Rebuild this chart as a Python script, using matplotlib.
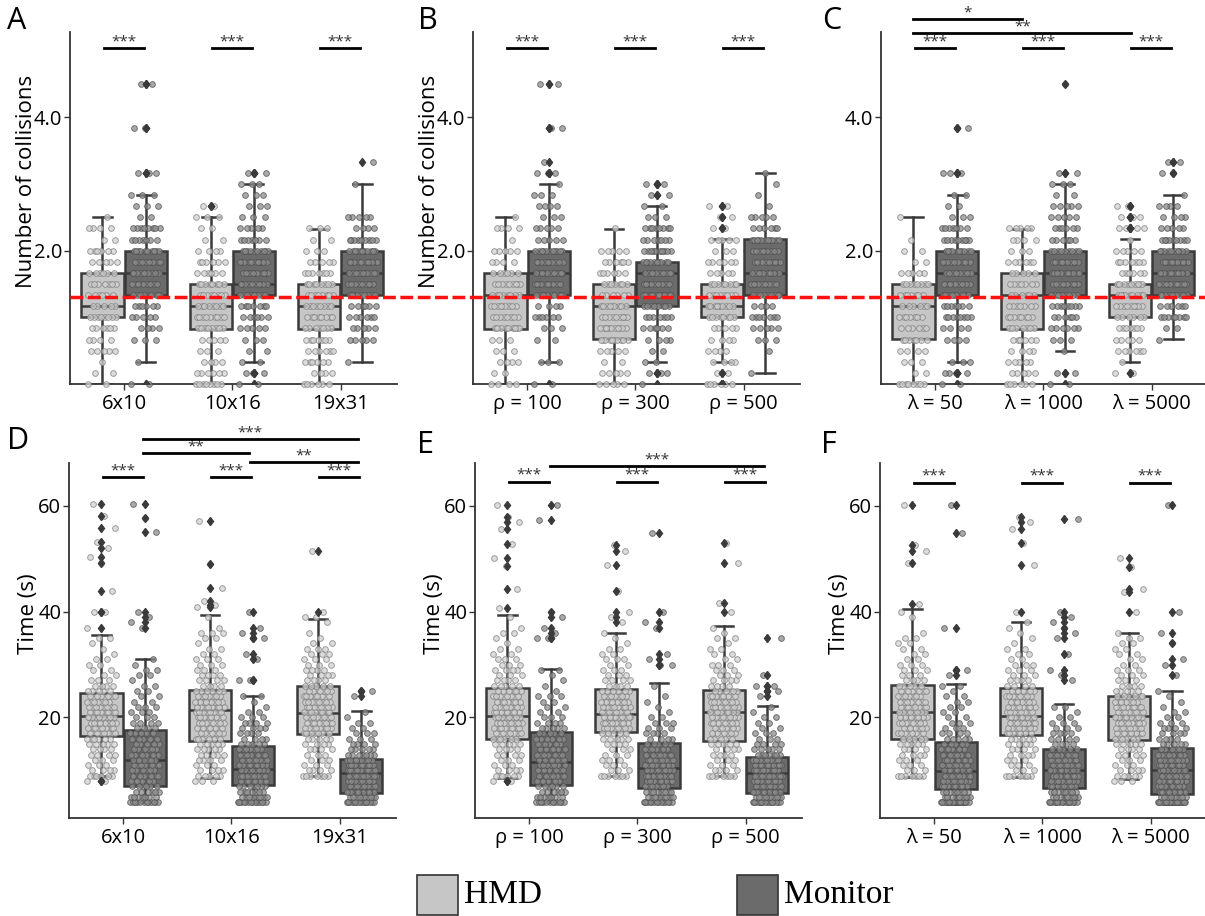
import numpy as np
import matplotlib
matplotlib.use("Agg")
import matplotlib.pyplot as plt
from matplotlib.lines import Line2D
from matplotlib.patches import Rectangle

plt.rcParams['font.family'] = ['Open Sans', 'DejaVu Sans']

# ---------------- data ----------------
# collisions: counts per level, level k = k/6 collisions (k = 0, 1, 2, ...)
a_labels = ['6x10', '10x16', '19x31']
b_labels = ['ρ = 100', 'ρ = 300', 'ρ = 500']
c_labels = ['λ = 50', 'λ = 1000', 'λ = 5000']

a_hmd_counts = [[2, 2, 1, 5, 4, 6, 8, 5, 6, 7, 6, 5, 6, 2, 4, 1],
                [8, 6, 4, 3, 5, 8, 9, 8, 8, 8, 6, 6, 4, 2, 2, 3, 2],
                [6, 4, 6, 6, 7, 7, 8, 8, 8, 8, 7, 5, 3, 2, 3]]
a_mon_counts = [[2, 0, 1, 0, 3, 4, 5, 6, 9, 8, 10, 9, 10, 7, 8, 2, 3, 3, 0, 3, 0, 0, 0, 2, 0, 0, 0, 2],
                [2, 3, 2, 2, 3, 5, 6, 7, 9, 10, 11, 10, 10, 7, 5, 3, 3, 3, 3, 3],
                [0, 0, 1, 0, 5, 5, 6, 6, 9, 9, 11, 10, 11, 9, 4, 5, 0, 0, 1, 0, 1]]
b_hmd_counts = [[4, 2, 4, 3, 3, 9, 8, 9, 8, 9, 6, 4, 5, 1, 4, 1],
                [5, 5, 2, 5, 10, 10, 9, 9, 6, 7, 6, 6, 5, 0, 1],
                [6, 2, 4, 4, 4, 5, 8, 9, 8, 8, 5, 6, 3, 5, 2, 2, 2]]
b_mon_counts = [[2, 0, 3, 0, 2, 3, 6, 4, 10, 10, 11, 10, 11, 5, 5, 3, 4, 3, 1, 3, 1, 0, 0, 2, 0, 0, 0, 2],
                [1, 3, 2, 2, 4, 6, 7, 9, 10, 9, 11, 10, 10, 7, 8, 3, 2, 2, 3],
                [0, 1, 0, 1, 3, 5, 7, 4, 9, 10, 10, 9, 9, 11, 6, 5, 1, 1, 1, 1]]
c_hmd_counts = [[8, 2, 3, 4, 7, 6, 7, 6, 7, 8, 5, 2, 2, 1, 0, 1],
                [6, 5, 5, 4, 6, 7, 8, 7, 6, 7, 5, 6, 3, 4, 5],
                [0, 2, 1, 6, 5, 7, 6, 9, 9, 9, 6, 7, 5, 1, 4, 3, 2]]
c_mon_counts = [[2, 4, 3, 0, 4, 4, 8, 7, 10, 8, 10, 9, 10, 9, 7, 3, 2, 2, 0, 3, 0, 0, 0, 2],
                [2, 2, 0, 1, 3, 6, 6, 8, 9, 10, 11, 10, 9, 6, 6, 5, 5, 2, 3, 2, 0, 0, 0, 0, 0, 0, 0, 1],
                [0, 0, 0, 0, 1, 2, 8, 6, 10, 11, 11, 11, 10, 9, 5, 4, 4, 1, 0, 2, 2]]

# box stats (q1, median, q3, whisker low, whisker high)
a_hmd_box = [(1.0, 1.17, 1.67, 0.0, 2.5), (0.83, 1.17, 1.5, 0.0, 2.5), (0.83, 1.17, 1.5, 0.0, 2.33)]
a_mon_box = [(1.33, 1.67, 2.0, 0.33, 2.83), (1.33, 1.5, 2.0, 0.33, 3.0), (1.33, 1.67, 2.0, 0.33, 3.0)]
b_hmd_box = [(0.83, 1.33, 1.67, 0.0, 2.5), (0.67, 1.17, 1.5, 0.0, 2.33), (1.0, 1.17, 1.5, 0.33, 2.17)]
b_mon_box = [(1.33, 1.67, 2.0, 0.33, 3.0), (1.17, 1.67, 1.83, 0.33, 2.67), (1.33, 1.67, 2.17, 0.17, 3.17)]
c_hmd_box = [(0.67, 1.17, 1.5, 0.0, 2.5), (0.83, 1.33, 1.67, 0.0, 2.33), (1.0, 1.33, 1.5, 0.33, 2.17)]
c_mon_box = [(1.33, 1.67, 2.0, 0.33, 2.83), (1.33, 1.67, 2.0, 0.5, 3.0), (1.33, 1.67, 2.0, 0.67, 2.83)]

# time: counts per whole second starting at 4 s, plus slow trials above 40 s
d_hmd_counts = [[0, 0, 0, 0, 2, 6, 4, 3, 3, 4, 4, 5, 6, 7, 8, 8, 9, 8, 8, 7, 6, 5, 4, 3, 2, 2, 2, 2, 1, 1, 1, 2, 0, 1, 0, 0, 2],
                [0, 0, 0, 0, 3, 5, 4, 3, 4, 5, 5, 5, 6, 6, 6, 7, 7, 8, 8, 8, 7, 6, 4, 4, 4, 3, 3, 3, 2, 2, 1, 2, 3, 1, 0, 1, 0],
                [0, 0, 0, 0, 0, 7, 4, 3, 3, 3, 4, 4, 5, 7, 8, 8, 8, 8, 8, 8, 7, 6, 5, 4, 4, 4, 3, 3, 3, 3, 2, 1, 1, 0, 1, 2, 1]]
d_mon_counts = [[12, 7, 6, 6, 6, 6, 6, 7, 7, 6, 6, 5, 5, 5, 4, 4, 3, 3, 3, 2, 2, 2, 2, 1, 2, 2, 1, 1, 0, 0, 0, 0, 0, 1, 1, 1, 1],
                [14, 8, 7, 7, 8, 9, 9, 8, 8, 7, 7, 5, 4, 4, 4, 4, 3, 2, 1, 1, 2, 0, 0, 2, 0, 0, 0, 1, 1, 0, 0, 2, 1, 1, 0, 0, 1],
                [16, 10, 9, 9, 10, 11, 12, 11, 9, 7, 5, 4, 3, 3, 2, 2, 1, 1, 0, 0, 1, 2]]
d_hmd_tail = [[60.3, 58.1, 55.8, 53.1, 52.0, 50.4, 49.2, 44.0], [57.2, 49.0, 44.4, 42.0, 41.3, 40.8], [51.5]]
d_mon_tail = [[60.3, 57.7, 55.1], [], []]

e_hmd_counts = [[0, 0, 0, 0, 2, 6, 4, 3, 3, 4, 4, 5, 6, 7, 7, 8, 8, 8, 7, 7, 6, 6, 5, 4, 3, 4, 3, 3, 2, 2, 1, 1, 2, 1, 0, 1, 0],
                [0, 0, 0, 0, 0, 7, 3, 3, 3, 3, 3, 4, 5, 7, 8, 9, 9, 9, 9, 8, 7, 6, 4, 4, 3, 3, 2, 3, 2, 2, 1, 1, 1, 0, 1, 1, 1],
                [0, 0, 0, 0, 0, 7, 4, 3, 3, 4, 4, 5, 5, 6, 6, 7, 8, 9, 9, 8, 7, 6, 4, 4, 3, 3, 3, 2, 2, 2, 1, 2, 1, 1, 0, 0, 1]]
e_mon_counts = [[12, 7, 6, 6, 6, 7, 7, 7, 7, 7, 6, 6, 6, 5, 5, 4, 3, 2, 2, 2, 3, 1, 1, 1, 1, 2, 0, 0, 0, 0, 0, 2, 1, 1, 0, 1, 1],
                [14, 8, 8, 7, 8, 8, 9, 9, 8, 7, 6, 5, 4, 4, 3, 3, 2, 1, 1, 1, 1, 0, 1, 0, 0, 0, 2, 1, 1, 0, 0, 0, 0, 1, 1, 0, 1],
                [16, 10, 9, 9, 10, 11, 11, 10, 9, 7, 5, 4, 3, 3, 2, 2, 2, 1, 1, 0, 1, 2, 2, 0, 1, 0, 0, 0, 0, 0, 0, 1]]
e_hmd_tail = [[60.2, 57.9, 57.0, 55.6, 52.8, 50.2, 48.6, 44.2, 40.6], [52.6, 51.5, 48.8, 43.9], [52.9, 49.2, 41.6]]
e_mon_tail = [[60.2, 57.4], [54.9], []]

f_hmd_counts = [[0, 0, 0, 0, 0, 7, 3, 3, 3, 4, 4, 5, 5, 6, 7, 7, 8, 8, 8, 7, 7, 6, 5, 4, 3, 3, 3, 2, 2, 2, 2, 2, 1, 0, 0, 1, 1],
                [0, 0, 0, 0, 0, 7, 3, 3, 3, 4, 4, 4, 5, 7, 8, 9, 9, 8, 8, 7, 7, 6, 4, 4, 3, 3, 3, 2, 2, 2, 1, 1, 1, 1, 1, 0, 1],
                [0, 0, 0, 0, 3, 5, 4, 3, 3, 4, 4, 5, 6, 7, 8, 8, 9, 8, 8, 7, 6, 5, 4, 3, 3, 3, 2, 2, 2, 2, 2, 2, 1, 0, 0, 0, 1]]
f_mon_counts = [[16, 9, 8, 8, 8, 8, 8, 8, 7, 6, 6, 5, 5, 4, 3, 3, 2, 2, 2, 2, 2, 1, 2, 0, 1, 2, 0, 0, 0, 0, 0, 0, 0, 1],
                [16, 9, 8, 8, 9, 9, 10, 9, 8, 7, 5, 4, 4, 4, 3, 3, 2, 1, 2, 0, 0, 0, 0, 1, 1, 1, 0, 0, 1, 0, 0, 1, 1, 1, 1, 1, 1],
                [17, 9, 8, 7, 8, 8, 9, 9, 8, 7, 6, 5, 4, 4, 4, 3, 2, 2, 1, 1, 1, 1, 0, 0, 1, 0, 1, 1, 0, 0, 1, 0, 1, 0, 0, 0, 1]]
f_hmd_tail = [[60.1, 52.6, 51.4, 49.2, 41.5], [57.9, 57.0, 55.6, 52.9, 48.9], [50.1, 48.5, 44.3, 43.8]]
f_mon_tail = [[60.1, 54.8], [57.5], [60.2]]

d_hmd_box = [(16.5, 20.2, 24.7, 8.85, 35.6), (15.6, 21.4, 25.2, 8.5, 39.4), (16.85, 20.8, 25.9, 9.0, 38.6)]
d_mon_box = [(7.0, 11.9, 17.7, 4.0, 31.0), (7.2, 10.3, 14.6, 4.0, 24.0), (5.7, 9.5, 12.1, 4.0, 21.3)]
e_hmd_box = [(16.0, 20.3, 25.6, 8.6, 39.3), (17.2, 20.7, 25.3, 9.0, 36.0), (15.6, 21.0, 25.1, 9.0, 37.3)]
e_mon_box = [(7.2, 11.6, 17.2, 4.0, 29.2), (6.7, 10.5, 15.2, 4.0, 26.5), (5.8, 9.5, 12.5, 4.0, 22.1)]
f_hmd_box = [(15.9, 21.1, 26.2, 8.8, 40.5), (16.7, 20.3, 25.5, 8.8, 38.0), (15.7, 20.2, 24.1, 8.3, 35.9)]
f_mon_box = [(6.5, 9.9, 15.3, 3.6, 26.3), (6.6, 10.1, 14.0, 3.9, 22.5), (5.6, 10.1, 14.3, 3.7, 25.0)]

# ---------------- helpers ----------------
HMD_BOX = '#c6c6c6'
MON_BOX = '#6b6b6b'
EDGE = '#3a3a3a'


def coll_values(counts):
    return np.repeat(np.arange(len(counts)) / 6.0, counts)


def time_values(counts, tail):
    v = np.repeat(np.arange(4, 4 + len(counts)).astype(float), counts)
    return np.concatenate([v, np.array(tail, dtype=float)])


def draw_group(ax, pos, vals, box, face, pface, pedge, tol):
    q1, med, q3, lo, hi = box
    fl = vals[(vals > hi + tol) | (vals < lo - tol)]
    st = dict(med=med, q1=q1, q3=q3, whislo=lo, whishi=hi, fliers=fl)
    ax.bxp([st], positions=[pos], widths=0.39, capwidths=0.17, patch_artist=True,
           boxprops=dict(facecolor=face, edgecolor=EDGE, linewidth=1.8),
           medianprops=dict(color=EDGE, linewidth=1.8),
           whiskerprops=dict(color=EDGE, linewidth=1.8),
           capprops=dict(color=EDGE, linewidth=1.8),
           flierprops=dict(marker='d', markersize=4.5, markerfacecolor=EDGE,
                           markeredgecolor=EDGE, linestyle='none', zorder=5),
           manage_ticks=False, zorder=2)
    v = np.sort(vals)
    off = ((np.arange(len(v)) * 0.618034) % 1.0 - 0.5) * 0.27
    ax.scatter(pos + off, v, s=17, facecolor=pface, edgecolor=pedge, linewidth=0.7,
               alpha=0.75, zorder=4, clip_on=False)


def sig(ax, x1, x2, y, txt):
    ax.plot([x1, x2], [y, y], color='black', lw=2, clip_on=False, zorder=6)
    ax.annotate(txt, ((x1 + x2) / 2, y), xytext=(0, -1), textcoords='offset points',
                ha='center', va='bottom', fontsize=11, color='#333333', annotation_clip=False)


def panel(ax, labels, hmd, mon, hmd_box, mon_box, tol):
    for i in range(3):
        draw_group(ax, i - 0.2, hmd[i], hmd_box[i], HMD_BOX, '#d2d2d2', '#808080', tol)
        draw_group(ax, i + 0.2, mon[i], mon_box[i], MON_BOX, '#8e8e8e', '#505050', tol)
    ax.set_xlim(-0.5, 2.52)
    ax.set_xticks([0, 1, 2])
    ax.set_xticklabels(labels)
    for s in ['top', 'right']:
        ax.spines[s].set_visible(False)
    for s in ['left', 'bottom']:
        ax.spines[s].set_color('#333333')
        ax.spines[s].set_linewidth(1.3)
    ax.tick_params(axis='both', labelsize=14.5, length=4, width=1, color='#333333', pad=3)
    ax.tick_params(axis='y', pad=1.5)


# ---------------- figure ----------------
fig = plt.figure(figsize=(12.05, 9.16), dpi=100)
W, H = 1205.0, 916.0


def add_ax(left, top, bottom, width=327):
    return fig.add_axes([left / W, 1 - bottom / H, width / W, (bottom - top) / H])


ax_a = add_ax(70, 32, 384)
ax_b = add_ax(473, 32, 384)
ax_c = add_ax(881, 32, 384)
ax_d = add_ax(69, 463, 818)
ax_e = add_ax(475, 463, 818)
ax_f = add_ax(880, 463, 818)

top_axes = [(ax_a, a_labels, a_hmd_counts, a_mon_counts, a_hmd_box, a_mon_box),
            (ax_b, b_labels, b_hmd_counts, b_mon_counts, b_hmd_box, b_mon_box),
            (ax_c, c_labels, c_hmd_counts, c_mon_counts, c_hmd_box, c_mon_box)]
for ax, lab, hc, mc, hb, mb in top_axes:
    panel(ax, lab, [coll_values(c) for c in hc], [coll_values(c) for c in mc], hb, mb, 0.05)
    ax.set_ylim(0, 5.28)
    ax.set_yticks([2.0, 4.0])
    ax.set_yticklabels(['2.0', '4.0'])

bot_axes = [(ax_d, a_labels, d_hmd_counts, d_mon_counts, d_hmd_tail, d_mon_tail, d_hmd_box, d_mon_box),
            (ax_e, b_labels, e_hmd_counts, e_mon_counts, e_hmd_tail, e_mon_tail, e_hmd_box, e_mon_box),
            (ax_f, c_labels, f_hmd_counts, f_mon_counts, f_hmd_tail, f_mon_tail, f_hmd_box, f_mon_box)]
for ax, lab, hc, mc, ht, mt, hb, mb in bot_axes:
    panel(ax, lab, [time_values(c, t) for c, t in zip(hc, ht)],
          [time_values(c, t) for c, t in zip(mc, mt)], hb, mb, 0.5)
    ax.set_ylim(1.0, 68.1)
    ax.set_yticks([20, 40, 60])

for ax in [ax_a, ax_b]:
    ax.set_ylabel('Number of collisions', fontsize=16)
    ax.yaxis.set_label_coords(-0.102, 0.575)
for ax in [ax_d, ax_e, ax_f]:
    ax.set_ylabel('Time (s)', fontsize=16)
    ax.yaxis.set_label_coords(-0.092, 0.575)

# significance bars
for ax in [ax_a, ax_b, ax_c]:
    for i in range(3):
        sig(ax, i - 0.19, i + 0.18, 5.04, '***')
sig(ax_c, -0.2, 0.8, 5.47, '*')
sig(ax_c, -0.2, 1.81, 5.26, '**')

for i in range(3):
    sig(ax_d, i - 0.19, i + 0.18, 65.5, '***')
    sig(ax_e, i - 0.19, i + 0.18, 64.6, '***')
    sig(ax_f, i - 0.19, i + 0.18, 64.4, '***')
sig(ax_d, 0.18, 1.16, 70.0, '**')
sig(ax_d, 1.17, 2.17, 68.2, '**')
sig(ax_d, 0.18, 2.17, 72.7, '***')
sig(ax_e, 0.19, 2.17, 67.6, '***')

# red reference line across the top row
pa = ax_a.get_position()
y_ref = pa.y0 + 1.3 / 5.28 * pa.height
fig.add_artist(Line2D([pa.x0, 1.0], [y_ref, y_ref], transform=fig.transFigure,
                      color='#ff1010', lw=2.5, dashes=(3.7, 1.3), zorder=10))

# panel letters
for x, y, t in [(7, 6, 'A'), (418, 6, 'B'), (822, 6, 'C'), (7, 426, 'D'), (417, 430, 'E'), (821, 430, 'F')]:
    fig.text(x / W, 1 - y / H, t, fontsize=22, va='top', ha='left')

# legend
for x0, face, name in [(417, HMD_BOX, 'HMD'), (737, MON_BOX, 'Monitor')]:
    fig.add_artist(Rectangle((x0 / W, 1 - 915 / H), 41 / W, 40 / H, transform=fig.transFigure,
                             facecolor=face, edgecolor='#333333', lw=1.2))
    fig.text((x0 + 47) / W, 1 - 895 / H, name, fontsize=24, family='Liberation Serif',
             va='center', ha='left')

fig.savefig('out.png', dpi=100)
